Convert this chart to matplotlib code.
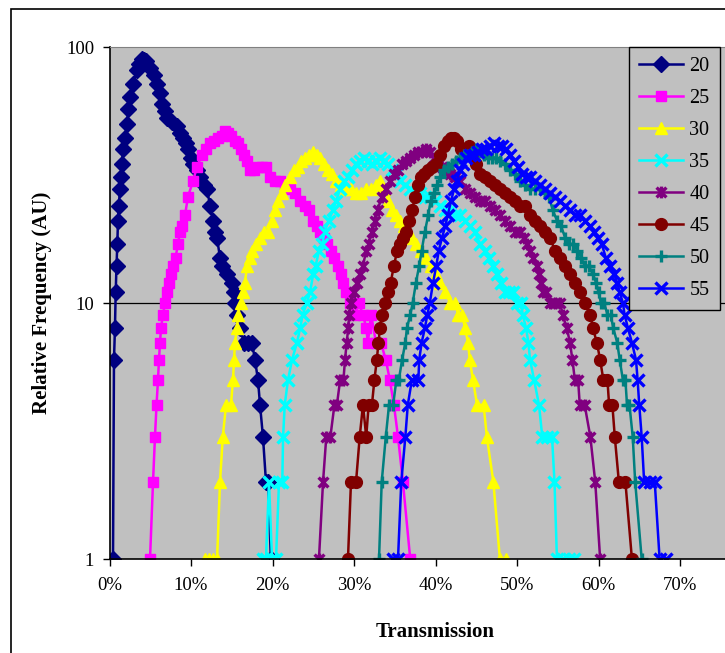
import matplotlib
matplotlib.use("Agg")
import matplotlib.pyplot as plt
from matplotlib.path import Path
from matplotlib.patches import Rectangle
from matplotlib.ticker import PercentFormatter, FixedLocator, NullLocator, FixedFormatter

plt.rcParams["font.family"] = ["Liberation Serif", "DejaVu Serif"]

# transmission (%) and relative frequency for each sample
x20 = [0.43, 0.55, 0.67, 0.76, 0.86, 0.96, 1.04, 1.14, 1.29, 1.41, 1.53, 1.66, 1.9, 2.15, 2.33, 2.52,
       2.88, 3.37, 3.68, 3.99, 4.23, 4.48, 4.97, 5.46, 5.83, 6.2, 6.44, 6.81, 7.06, 7.67, 8.28, 8.65,
       9.02, 9.39, 9.63, 10.0, 10.25, 10.74, 11.1, 11.6, 11.96, 12.33, 12.7, 12.94, 13.19, 13.56, 13.8,
       14.42, 15.03, 15.28, 15.4, 15.64, 16.0, 16.5, 16.99, 17.48, 17.85, 18.22, 18.47, 18.83, 19.2,
       19.45, 19.8]
y20 = [1, 6, 8, 11, 14, 17, 21, 24, 28, 31, 35, 40, 44, 50, 57, 64,
       72, 81, 86, 90, 89, 88, 83, 78, 72, 66, 60, 56, 53, 51, 49, 46,
       44, 42, 40, 37, 35, 33, 31, 29, 28, 24, 21, 19, 18, 15, 14,
       13, 12, 11, 10, 9, 8, 7, 7, 7, 6, 5, 4, 3, 2,
       2, 1]

x25 = [4.97, 5.34, 5.58, 5.77, 5.95, 6.07, 6.2, 6.32, 6.56, 6.81, 7.06, 7.3, 7.55, 7.79, 8.1, 8.4,
       8.65, 8.9, 9.26, 9.63, 10.25, 10.74, 11.35, 11.84, 12.33, 12.82, 13.31, 13.8, 14.17, 14.54,
       14.9, 15.4, 15.77, 16.13, 16.5, 16.87, 17.24, 17.73, 18.22, 18.71, 19.2, 19.7, 20.3, 20.9,
       21.5, 22.1, 22.7, 23.4, 24.0, 24.5, 25.0, 25.5, 25.8, 26.3, 26.7, 27.2, 27.5, 28.0, 28.4,
       28.6, 29.0, 29.5, 30.1, 30.6, 31.1, 31.5, 31.7, 32.1, 32.7, 33.3, 33.9, 34.4, 34.9, 35.4,
       36.0, 36.9]
y25 = [1, 2, 3, 4, 5, 6, 7, 8, 9, 10, 11, 12, 13, 14, 15, 17,
       19, 20, 22, 26, 30, 34, 38, 40, 42, 43, 44, 45, 47, 46,
       45, 43, 42, 40, 38, 36, 33, 33, 34, 34, 34, 31, 30, 30,
       29, 28, 27, 25, 24, 23, 21, 20, 19, 18, 17, 16, 15, 14, 13,
       12, 11, 10, 9, 10, 9, 8, 7, 9, 7, 7, 6, 5, 4, 3,
       2, 1]

x30 = [11.7, 12.2, 12.7, 13.2, 13.56, 13.9, 14.3, 14.9, 15.15, 15.28, 15.4, 15.64, 15.77, 16.1, 16.4,
       16.6, 16.9, 17.2, 17.5, 18.0, 18.5, 19.0, 19.45, 19.9, 20.3, 20.7, 21.2, 21.5, 22.1, 22.6,
       23.1, 23.5, 24.0, 24.5, 25.0, 25.5, 25.8, 26.3, 26.8, 27.3, 27.8, 28.4, 29.0, 29.6, 30.2,
       30.9, 31.5, 32.1, 32.7, 33.2, 33.7, 34.2, 34.7, 35.2, 35.6, 36.1, 36.6, 37.1, 37.6, 38.2,
       38.8, 39.4, 40.1, 40.6, 41.2, 41.8, 42.4, 42.8, 43.3, 43.6, 44.0, 44.2, 44.6, 45.1, 45.9,
       46.3, 47.1, 47.9, 48.7]
y30 = [1, 1, 1, 1, 2, 3, 4, 4, 5, 6, 7, 8, 9, 10, 11,
       12, 14, 15, 16, 17, 18, 19, 19, 21, 23, 25, 27, 29, 31, 33,
       34, 36, 37, 38, 39, 38, 37, 35, 33, 32, 30, 29, 28, 28, 27,
       27, 28, 28, 29, 30, 28, 25, 23, 22, 21, 20, 19, 18, 17, 16,
       15, 14, 13, 12, 11, 10, 10, 9, 9, 8, 7, 6, 5, 4, 4,
       3, 2, 1, 1]

x35 = [18.83, 19.2, 19.57, 19.94, 20.43, 20.8, 21.2, 21.3, 21.5, 21.9, 22.4, 23.0, 23.4, 23.7, 24.2,
       24.6, 25.0, 25.3, 25.7, 26.1, 26.4, 26.9, 27.4, 27.8, 28.3, 28.8, 29.3, 29.8, 30.2, 30.7,
       31.2, 31.7, 32.2, 32.7, 33.2, 33.7, 34.2, 34.7, 35.2, 35.6, 36.3, 36.9, 37.5, 38.1, 38.7,
       39.3, 39.9, 40.6, 41.2, 41.8, 42.4, 43.0, 43.6, 44.2, 44.8, 45.5, 46.1, 46.6, 47.1, 47.6,
       48.0, 48.5, 49.0, 49.5, 50.0, 50.5, 50.7, 51.1, 51.4, 51.6, 52.1, 52.7, 53.1, 53.7, 54.3,
       54.6, 54.9, 55.6, 56.4, 57.0]
y35 = [1, 1, 2, 1, 1, 2, 2, 3, 4, 5, 6, 7, 8, 9, 10,
       11, 13, 14, 16, 17, 19, 21, 23, 25, 28, 30, 31, 33, 35, 36,
       37, 36, 35, 36, 37, 36, 35, 33, 32, 30, 29, 28, 27, 27, 26,
       26, 25, 24, 23, 23, 22, 22, 21, 20, 19, 17, 16, 15, 14, 13,
       12, 11, 11, 11, 10, 10, 9, 8, 7, 6, 5, 4, 3, 3, 3,
       2, 1, 1, 1, 1]

x40 = [25.7, 26.2, 26.6, 27.1, 27.6, 27.9, 28.3, 28.7, 28.9, 29.1, 29.3, 29.4, 29.6, 30.0, 30.4,
       30.7, 31.1, 31.5, 31.8, 32.2, 32.6, 32.9, 33.4, 33.9, 34.4, 34.9, 35.4, 35.9, 36.4, 36.9,
       37.4, 37.9, 38.3, 38.8, 39.3, 39.8, 40.3, 40.8, 41.3, 41.8, 42.4, 43.0, 43.6, 44.2, 44.8,
       45.5, 46.1, 46.7, 47.3, 47.9, 48.5, 49.1, 49.8, 50.4, 50.9, 51.2, 51.6, 52.0, 52.4, 52.7,
       53.0, 53.2, 53.6, 54.1, 54.7, 55.3, 55.6, 56.1, 56.5, 56.8, 57.1, 57.5, 57.7, 58.3, 59.0,
       59.6, 60.2]
y40 = [1, 2, 3, 3, 4, 4, 5, 5, 6, 7, 8, 9, 10, 11, 12,
       13, 14, 16, 17, 19, 21, 23, 26, 28, 30, 32, 33, 35, 36, 37,
       38, 39, 39, 40, 39, 37, 35, 34, 33, 32, 31, 30, 28, 27, 26,
       25, 25, 24, 23, 22, 21, 20, 19, 19, 18, 17, 16, 15, 14, 13,
       12, 11, 11, 10, 10, 10, 9, 8, 7, 6, 5, 5, 4, 4, 3,
       2, 1]

x45 = [29.26, 29.63, 30.25, 30.7, 31.1, 31.5, 31.8, 32.2, 32.5, 32.8, 33.0, 33.2, 33.4, 33.8,
       34.2, 34.5, 34.9, 35.3, 35.6, 36.0, 36.4, 36.7, 37.1, 37.5, 37.9, 38.2, 38.6, 39.1, 39.6,
       40.1, 40.6, 41.0, 41.5, 41.9, 42.3, 42.6, 43.1, 43.6, 44.1, 44.5, 45.0, 45.5, 46.1, 46.7,
       47.3, 47.9, 48.5, 49.1, 49.8, 50.4, 51.0, 51.6, 52.2, 52.8, 53.4, 54.0, 54.7, 55.3, 55.9,
       56.5, 57.1, 57.7, 58.3, 59.0, 59.3, 59.8, 60.2, 60.6, 61.1, 61.3, 61.7, 62.0, 62.5, 63.3,
       64.1]
y45 = [1, 2, 2, 3, 4, 3, 4, 4, 5, 6, 7, 8, 9, 10,
       11, 12, 14, 16, 17, 18, 19, 21, 23, 26, 29, 31, 32, 33, 34,
       35, 38, 41, 43, 44, 44, 43, 40, 40, 41, 38, 35, 32, 31, 30,
       29, 28, 27, 26, 25, 24, 24, 22, 21, 20, 19, 18, 16, 15, 14,
       13, 12, 11, 10, 9, 8, 7, 6, 5, 5, 4, 4, 3, 2, 2,
       1]

x50 = [33.07, 33.4, 33.9, 34.3, 34.8, 35.2, 35.5, 35.9, 36.3, 36.5, 36.9, 37.2, 37.6, 38.0, 38.3,
       38.7, 39.1, 39.4, 39.8, 40.2, 40.6, 41.0, 41.5, 42.0, 42.5, 43.0, 43.5, 44.0, 44.5, 45.0,
       45.5, 46.0, 46.4, 46.9, 47.4, 47.9, 48.5, 49.1, 49.8, 50.4, 51.0, 51.6, 52.2, 52.8, 53.4,
       53.9, 54.4, 54.9, 55.4, 55.9, 56.4, 56.9, 57.4, 57.9, 58.3, 58.8, 59.3, 59.7, 60.0, 60.3,
       60.7, 61.1, 61.5, 61.8, 62.3, 62.6, 63.0, 63.3, 63.5, 63.8, 64.2, 64.5, 65.3]
y50 = [1, 2, 3, 4, 4, 5, 5, 6, 7, 8, 9, 10, 12, 14, 16,
       19, 22, 25, 27, 29, 31, 33, 34, 35, 36, 37, 38, 38, 39, 40,
       39, 38, 37, 37, 37, 36, 35, 33, 32, 30, 29, 28, 28, 28, 27,
       26, 23, 21, 20, 18, 17, 17, 16, 15, 14, 14, 13, 12, 11, 10,
       10, 9, 9, 8, 7, 6, 5, 5, 4, 4, 3, 2, 1]

x55 = [34.8, 35.4, 35.8, 36.3, 36.6, 37.1, 37.9, 38.0, 38.3, 38.7, 39.0, 39.3, 39.7, 40.1, 40.4,
       40.8, 41.2, 41.5, 41.9, 42.3, 42.6, 43.0, 43.4, 43.7, 44.2, 44.7, 45.2, 45.7, 46.2, 46.7,
       47.2, 47.7, 48.2, 48.7, 49.1, 49.6, 50.1, 50.6, 51.1, 51.6, 52.2, 52.8, 53.4, 54.0, 54.7,
       55.3, 55.9, 56.5, 57.1, 57.7, 58.3, 59.0, 59.4, 59.9, 60.4, 60.9, 61.4, 61.9, 62.3, 62.6,
       63.0, 63.2, 63.6, 64.1, 64.6, 64.8, 65.0, 65.3, 65.6, 66.3, 66.9, 67.5, 68.3]
y55 = [1, 1, 2, 3, 4, 5, 5, 6, 7, 8, 9, 10, 12, 14, 16,
       18, 20, 22, 25, 28, 30, 33, 35, 37, 38, 38, 39, 40, 40, 41,
       42, 41, 41, 40, 38, 36, 34, 32, 31, 31, 30, 29, 28, 27, 26,
       25, 24, 23, 22, 22, 21, 20, 19, 18, 17, 15, 14, 13, 12, 11,
       10, 9, 8, 7, 6, 5, 4, 3, 2, 2, 2, 1, 1]

labels = ["20", "25", "30", "35", "40", "45", "50", "55"]
xs = [x20, x25, x30, x35, x40, x45, x50, x55]
ys = [y20, y25, y30, y35, y40, y45, y50, y55]
xtick_vals = [0, 10, 20, 30, 40, 50, 60, 70]

# Excel style "star": an x with a vertical bar through it
star = Path([(-1, -1), (1, 1), (-1, 1), (1, -1), (0, -1.2), (0, 1.2)],
            [Path.MOVETO, Path.LINETO] * 3)

styles = [
    dict(color="#000080", marker="D", ms=8.5),
    dict(color="#FF00FF", marker="s", ms=7.5),
    dict(color="#FFFF00", marker="^", ms=9),
    dict(color="#00FFFF", marker="x", ms=8.5, mew=2.4),
    dict(color="#800080", marker=star, ms=8.5, mew=2.4),
    dict(color="#800000", marker="o", ms=8.5),
    dict(color="#008080", marker="+", ms=9, mew=2.4),
    dict(color="#0000FF", marker="x", ms=8.5, mew=2.4),
]

fig = plt.figure(figsize=(7.25, 6.53), dpi=100)
W, H = 725, 653

# chart frame
fig.patches.append(Rectangle((10.5 / W, -0.2), 1.2, 1 - 8.5 / H + 0.2, transform=fig.transFigure,
                             fill=False, edgecolor="black", linewidth=1.2))

ax = fig.add_axes([109.5 / W, 1 - 559 / H, 652 / W, 512 / H])
ax.set_facecolor("#C0C0C0")

for x, y, lab, st in zip(xs, ys, labels, styles):
    c = st["color"]
    ax.plot(x, y, color=c, lw=1.8, marker=st["marker"], ms=st["ms"],
            mew=st.get("mew", 1), mfc=c, mec=c, label=lab)

ax.set_yscale("log")
ax.set_ylim(1, 100)
ax.set_xlim(0, 80)
ax.yaxis.set_major_locator(FixedLocator([1, 10, 100]))
ax.yaxis.set_major_formatter(FixedFormatter(["1", "10", "100"]))
ax.yaxis.set_minor_locator(NullLocator())
ax.set_xticks(xtick_vals)
ax.xaxis.set_major_formatter(PercentFormatter(decimals=0))
ax.axhline(10, color="black", lw=0.9, zorder=0.5)

ax.tick_params(axis="both", direction="out", length=5, width=1, labelsize=13.5, colors="black")
ax.tick_params(axis="x", pad=8)
ax.tick_params(axis="y", pad=6)
for side in ["left", "bottom"]:
    ax.spines[side].set_color("black")
    ax.spines[side].set_linewidth(1.2)
for side in ["top", "right"]:
    ax.spines[side].set_color("#808080")

ax.set_xlabel("Transmission", fontsize=15, fontweight="bold", labelpad=20)
ax.set_ylabel("Relative Frequency (AU)", fontsize=15, fontweight="bold", labelpad=10)

leg = fig.legend(loc="upper left", bbox_to_anchor=(629 / W, 1 - 47 / H), fontsize=14.5,
                 frameon=True, fancybox=False, edgecolor="black", facecolor="#C0C0C0",
                 framealpha=1, handlelength=2.2, handletextpad=0.3, labelspacing=0.64,
                 borderpad=0.5, borderaxespad=0)
leg.get_frame().set_linewidth(1)

fig.savefig("out.png", dpi=100)
